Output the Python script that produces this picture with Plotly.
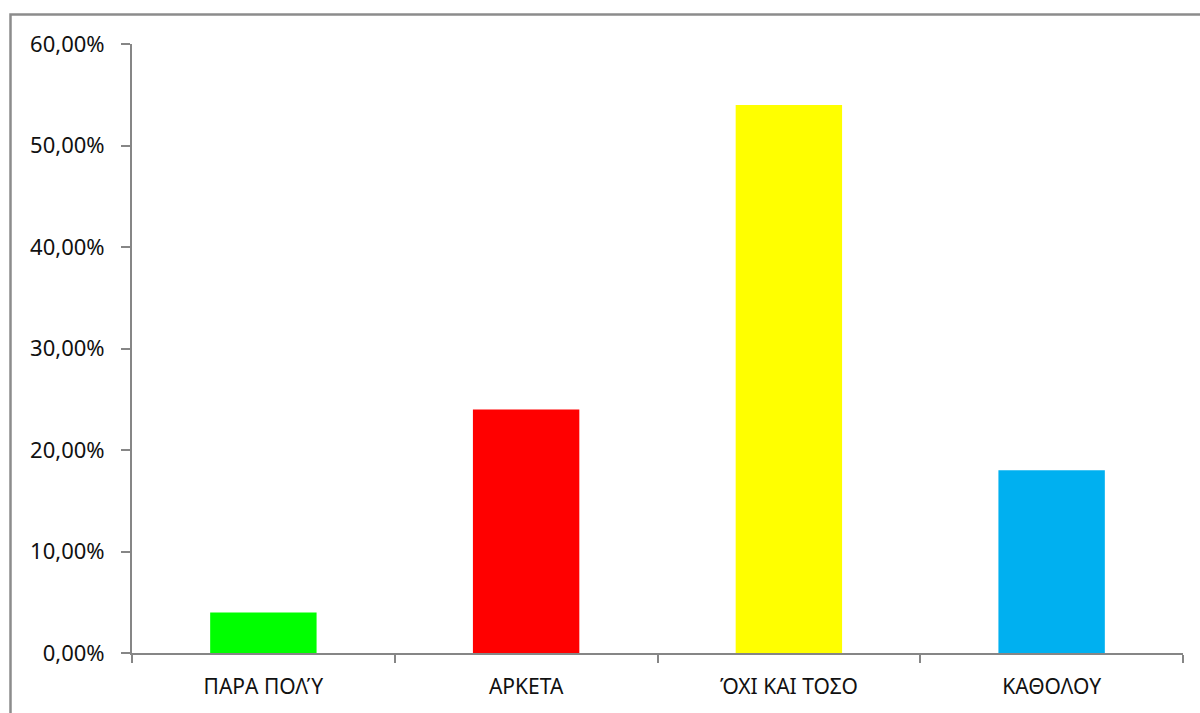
import plotly.graph_objects as go

categories = ["ΠΑΡΑ ΠΟΛΎ", "ΑΡΚΕΤΑ", "ΌΧΙ ΚΑΙ ΤΟΣΟ", "ΚΑΘΟΛΟΥ"]
shares = [0.04, 0.24, 0.54, 0.18]
bar_colors = ["#00FF00", "#FF0000", "#FFFF00", "#00B0F0"]
y_ticks = [0, 0.1, 0.2, 0.3, 0.4, 0.5, 0.6]

W, H = 1200, 713
L, R, T, B = 132, 17, 44, 60
axis_grey = "#868686"

fig = go.Figure(
    go.Bar(
        x=categories,
        y=shares,
        marker=dict(color=bar_colors, line=dict(width=0)),
        hoverinfo="x+y",
    )
)

# outer chart-area frame, running off the right and bottom edges
plot_w = W - L - R
plot_h = H - T - B
def px_x(px):
    return (px - L) / plot_w
def px_y(py):
    return (H - B - py) / plot_h

fig.add_shape(
    type="rect", xref="paper", yref="paper",
    x0=px_x(10.5), x1=px_x(1215), y0=px_y(14.5), y1=px_y(730),
    line=dict(color="#8c8c8c", width=2.5), fillcolor="rgba(0,0,0,0)",
    layer="below",
)

fig.update_layout(
    width=W, height=H,
    margin=dict(l=L, r=R, t=T, b=B, pad=0),
    paper_bgcolor="white", plot_bgcolor="white",
    separators=",.",
    bargap=0.595,
    showlegend=False,
    font=dict(family="Noto Sans, Open Sans, sans-serif", color="#111111", size=21),
)

fig.update_xaxes(
    type="category",
    showline=True, linecolor=axis_grey, linewidth=2,
    ticks="outside", tickson="boundaries", ticklen=8, tickwidth=2, tickcolor=axis_grey,
    showgrid=False, zeroline=False,
    tickfont=dict(size=21),
    ticklabelstandoff=14,
)

fig.update_yaxes(
    range=[0, 0.6],
    tickvals=y_ticks, tickformat=".2%",
    showline=True, linecolor=axis_grey, linewidth=2,
    ticks="outside", ticklen=9, tickwidth=2, tickcolor=axis_grey,
    showgrid=False, zeroline=False,
    tickfont=dict(size=22),
    ticklabelstandoff=12,
)

fig.write_html("out.html")
